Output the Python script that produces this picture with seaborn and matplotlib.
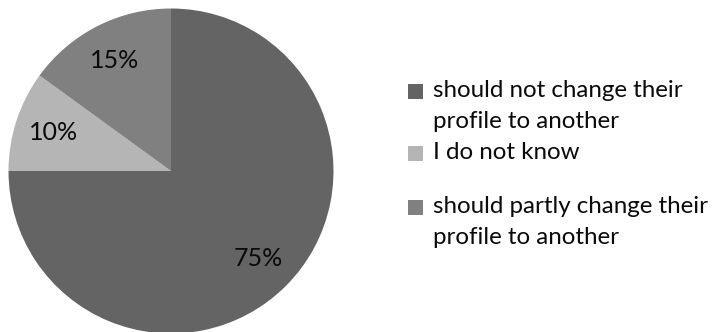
import matplotlib
matplotlib.use("Agg")
import matplotlib.pyplot as plt
import seaborn as sns
from matplotlib.patches import Rectangle

categories = ["should not change their\nprofile to another",
              "I do not know",
              "should partly change their\nprofile to another"]
values = [75, 10, 15]
colors = ["#646464", "#b4b5b4", "#808080"]

sns.set_theme(style="white")
plt.rcParams['font.family'] = ['Lato', 'DejaVu Sans']

W, H = 719, 332
fig = plt.figure(figsize=(W / 100, H / 100), dpi=100)
fig.patch.set_facecolor("white")

cx, cy, r = 171, 171, 162.5
ax = fig.add_axes([(cx - r) / W, (H - cy - r) / H, 2 * r / W, 2 * r / H])
wedges, texts, autotexts = ax.pie(values, colors=colors, startangle=90, counterclock=False,
                                  autopct=lambda p: f"{p:.0f}%", pctdistance=0.76,
                                  wedgeprops=dict(linewidth=0),
                                  textprops=dict(fontsize=18, color="#0a0a0a"))
ax.set_xlim(-1, 1)
ax.set_ylim(-1, 1)
ax.set_aspect("equal")
ax.axis("off")

# legend (manual, to match layout)
baselines = [97, 159, 213]
line_step = 31
fs = 17.4
for wedge, lab, b in zip(wedges, categories, baselines):
    sq = 15
    fig.add_artist(Rectangle((408 / W, 1 - (b - 5.5 + sq / 2) / H), sq / W, sq / H,
                             transform=fig.transFigure, facecolor=wedge.get_facecolor(),
                             edgecolor="none"))
    for i, line in enumerate(lab.split("\n")):
        fig.text(433 / W, 1 - (b + i * line_step) / H, line, fontsize=fs,
                 color="#0a0a0a", va="baseline", ha="left")

fig.savefig("out.png", dpi=100)
